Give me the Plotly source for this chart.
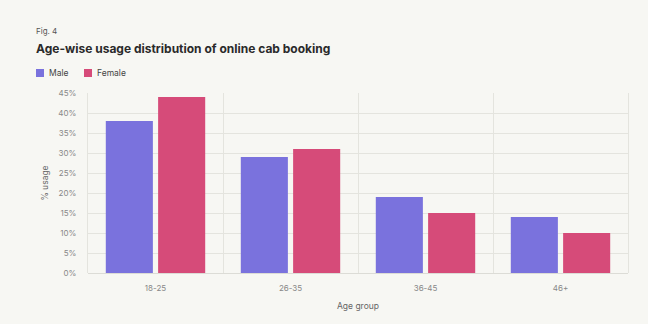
import plotly.graph_objects as go

# Age-wise share of online cab booking usage, by gender (%)
age_groups = ["18-25", "26-35", "36-45", "46+"]
male_usage = [38, 29, 19, 14]
female_usage = [44, 31, 15, 10]
y_ticks = [0, 5, 10, 15, 20, 25, 30, 35, 40, 45]
y_tick_labels = [f"{v}%" for v in y_ticks]
series_names = ["Male", "Female"]

W, H = 648, 324
L, R, T, B = 88, 20, 93, 51
BG = "#f7f7f3"
GRID = "#e4e4de"
MALE_C = "#7a72dd"
FEMALE_C = "#d64b79"
FONT = "Inter, Noto Sans, DejaVu Sans, sans-serif"

fig = go.Figure()
fig.add_trace(go.Bar(name=series_names[0], x=age_groups, y=male_usage,
                     marker_color=MALE_C, marker_line_width=0))
fig.add_trace(go.Bar(name=series_names[1], x=age_groups, y=female_usage,
                     marker_color=FEMALE_C, marker_line_width=0))

pw = W - L - R
ph = H - T - B


def px_x(x):
    return (x - L) / pw


def px_y(y):
    return (H - B - y) / ph


# compact legend: small square swatch followed by the series name
shapes = []
legend_notes = []
for name, color, x0 in [(series_names[0], MALE_C, 36), (series_names[1], FEMALE_C, 84)]:
    shapes.append(dict(type="rect", xref="paper", yref="paper",
                       x0=px_x(x0), x1=px_x(x0 + 8), y0=px_y(77), y1=px_y(69),
                       fillcolor=color, line_width=0))
    legend_notes.append(dict(text=name, xref="paper", yref="paper",
                             x=px_x(x0 + 11), y=px_y(73), xanchor="left", yanchor="middle",
                             showarrow=False, font=dict(size=8.5, color="#444", family=FONT)))

fig.update_layout(
    width=W, height=H,
    margin=dict(l=L, r=R, t=T, b=B, pad=0, autoexpand=False),
    paper_bgcolor=BG, plot_bgcolor=BG,
    font=dict(family=FONT, color="#777"),
    barmode="group", bargap=0.225, bargroupgap=0.1,
    showlegend=False,
    xaxis=dict(tickson="boundaries", showgrid=True, gridcolor=GRID, gridwidth=1,
               ticks="", tickfont=dict(size=8, color="#888"), ticklabelstandoff=9,
               showline=False, zeroline=False, automargin=False,
               title=dict(text="Age group", font=dict(size=8.5, color="#666"), standoff=11)),
    yaxis=dict(range=[0, 45], tickvals=y_ticks, ticktext=y_tick_labels,
               showgrid=True, gridcolor=GRID, gridwidth=1,
               zeroline=True, zerolinecolor="#dcdcd6", zerolinewidth=1,
               showline=True, linecolor=GRID, linewidth=1, mirror=True,
               ticks="", tickfont=dict(size=8, color="#888"), ticklabelstandoff=9,
               automargin=False,
               title=dict(text="% usage", font=dict(size=8.5, color="#666"), standoff=8)),
    shapes=shapes,
    annotations=[
        dict(text="Fig. 4", xref="paper", yref="paper", x=px_x(34), y=px_y(31),
             xanchor="left", yanchor="middle", showarrow=False,
             font=dict(size=8, color="#555", family=FONT)),
        dict(text="<b>Age-wise usage distribution of online cab booking</b>",
             xref="paper", yref="paper", x=px_x(34), y=px_y(48),
             xanchor="left", yanchor="middle", showarrow=False,
             font=dict(size=12, color="#2a2a2a", family=FONT)),
    ] + legend_notes,
)

fig.write_html("out.html")
